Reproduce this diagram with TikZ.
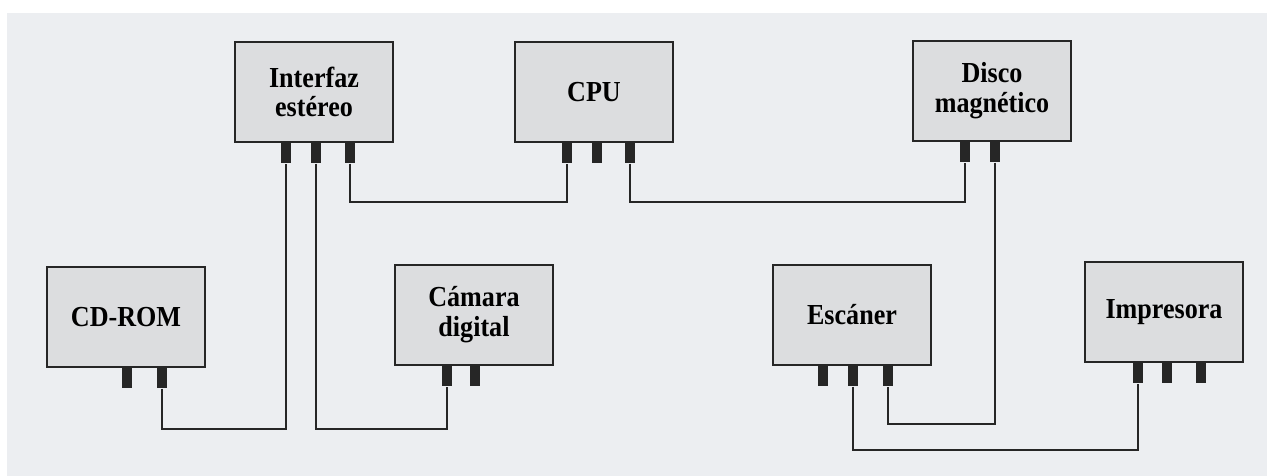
\documentclass[tikz,border=0pt]{standalone}
\usepackage{fontspec}
\setmainfont{Liberation Serif}[FakeStretch=0.9]
\usetikzlibrary{positioning}

\definecolor{paper}{HTML}{ECEEF1}
\definecolor{boxgray}{HTML}{DCDDDF}

\tikzset{
  device/.style={draw=black!85,line width=1.1pt,fill=boxgray,minimum width=3.16cm,
    minimum height=2cm,inner sep=0pt,align=center,
    font=\bfseries\fontsize{16.5}{17}\selectfont},
  port/.style={fill=black!85,draw=none,minimum width=0.2cm,minimum height=0.4cm,
    inner sep=0pt,anchor=north},
  cable/.style={line width=0.7pt,black!85}
}

\begin{document}
\begin{tikzpicture}[x=0.02cm,y=-0.02cm]
  \useasboundingbox (0,0) rectangle (1267,476);
  \fill[paper] (7,13) rectangle (1267,476);

  % devices
  \node[device] (int) at (314,92) {Interfaz\\estéreo};
  \node[device] (cpu) at (594,92) {CPU};
  \node[device] (dsk) at (992,91) {Disco\\magnético};
  \node[device] (cd) at (126,317) {CD-ROM};
  \node[device] (cam) at (474,315) {Cámara\\digital};
  \node[device] (esc) at (852,315) {Escáner};
  \node[device] (imp) at (1164,312) {Impresora};

  % connectors
  \node[port] (int1) at (int.south -| 286,0) {};
  \node[port] (int2) at (int.south -| 316,0) {};
  \node[port] (int3) at (int.south -| 350,0) {};
  \node[port] (cpu1) at (cpu.south -| 567,0) {};
  \node[port] (cpu2) at (cpu.south -| 597,0) {};
  \node[port] (cpu3) at (cpu.south -| 630,0) {};
  \node[port] (dsk1) at (dsk.south -| 965,0) {};
  \node[port] (dsk2) at (dsk.south -| 995,0) {};
  \node[port] (cd1) at (cd.south -| 127,0) {};
  \node[port] (cd2) at (cd.south -| 162,0) {};
  \node[port] (cam1) at (cam.south -| 447,0) {};
  \node[port] (cam2) at (cam.south -| 475,0) {};
  \node[port] (esc1) at (esc.south -| 823,0) {};
  \node[port] (esc2) at (esc.south -| 853,0) {};
  \node[port] (esc3) at (esc.south -| 888,0) {};
  \node[port] (imp1) at (imp.south -| 1138,0) {};
  \node[port] (imp2) at (imp.south -| 1167,0) {};
  \node[port] (imp3) at (imp.south -| 1201,0) {};

  % cables
  \draw[cable] (int3.south) -- (int3.south |- 0,202) -| (cpu1.south);
  \draw[cable] (cpu3.south) -- (cpu3.south |- 0,202) -| (dsk1.south);
  \draw[cable] (cd2.south) -- (cd2.south |- 0,429) -| (int1.south);
  \draw[cable] (int2.south) -- (int2.south |- 0,429) -| (cam1.south);
  \draw[cable] (dsk2.south) -- (dsk2.south |- 0,424) -| (esc3.south);
  \draw[cable] (esc2.south) -- (esc2.south |- 0,450) -| (imp1.south);
\end{tikzpicture}
\end{document}
